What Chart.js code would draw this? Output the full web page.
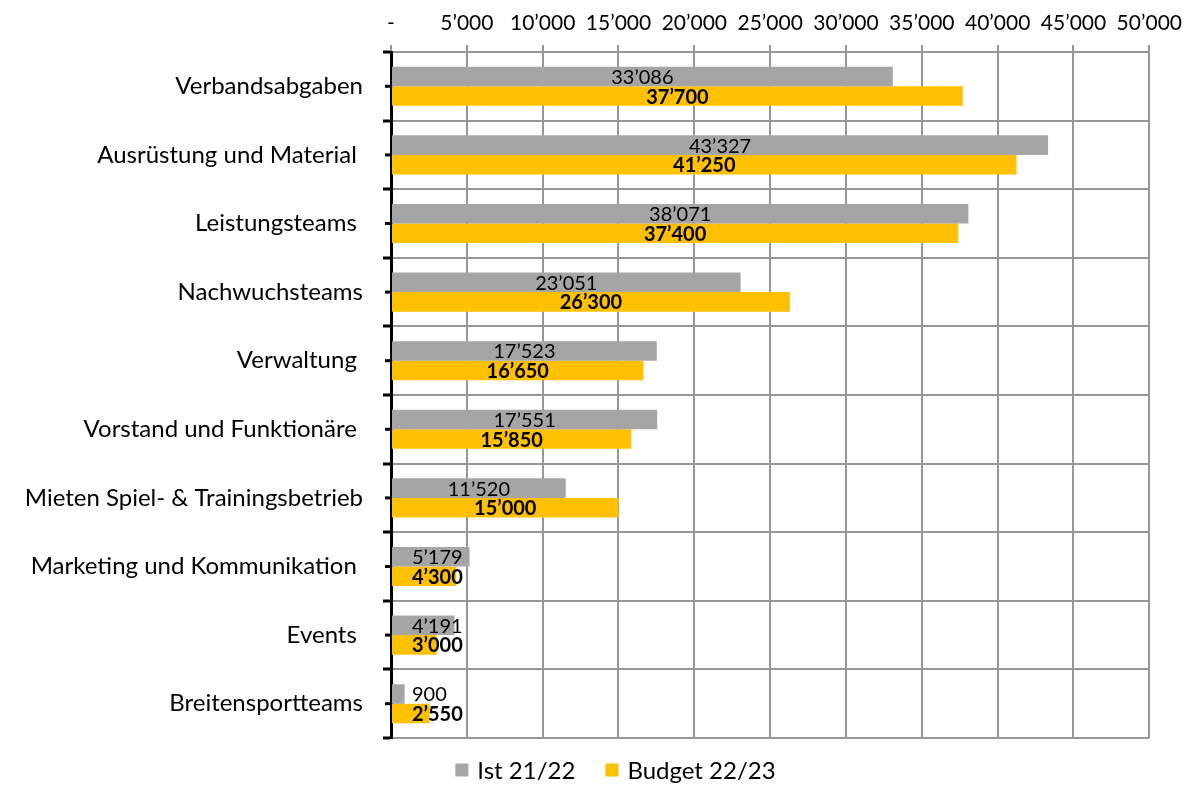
<!DOCTYPE html>
<html>
<head>
<meta charset="utf-8">
<script src="https://cdn.jsdelivr.net/npm/chart.js@4/dist/chart.umd.min.js"></script>
<style>
  html, body { margin: 0; padding: 0; background: #fff; }
  #wrap { width: 1191px; height: 787px; }
</style>
</head>
<body>
<div id="wrap"><canvas id="chart"></canvas></div>
<script>
"use strict";

// categories (trailing spaces are in the original labels)
const categories = [
  "Verbandsabgaben",
  "Ausrüstung und Material ",
  "Leistungsteams ",
  "Nachwuchsteams",
  "Verwaltung ",
  "Vorstand und Funktionäre ",
  "Mieten Spiel- & Trainingsbetrieb",
  "Marketing und Kommunikation ",
  "Events ",
  "Breitensportteams",
];
const istValues = [33086, 43327, 38071, 23051, 17523, 17551, 11520, 5179, 4191, 900];
const budgetValues = [37700, 41250, 37400, 26300, 16650, 15850, 15000, 4300, 3000, 2550];
const seriesNames = ["Ist 21/22", "Budget 22/23"];
const xMin = 0;
const xMax = 50000;
const xStep = 5000;

const FONT = "Lato";
const GRID = "#979797";

// 33086 -> 33’086, 0 -> "-"
const fmt = (v) =>
  v === 0 ? "-" : String(v).replace(/\B(?=(\d{3})+(?!\d))/g, "\u2019");

//? value labels in the bars, short ticks at category centers, legend
const extras = {
  id: "extras",
  afterDatasetsDraw(chart) {
    const ctx = chart.ctx;
    ctx.save();
    ctx.textBaseline = "middle";
    ctx.textAlign = "center";
    chart.data.datasets.forEach((ds, i) => {
      const meta = chart.getDatasetMeta(i);
      ctx.font = (i === 1 ? "bold " : "") + "20px " + FONT;
      ctx.fillStyle = "#000";
      meta.data.forEach((bar, j) => {
        const txt = fmt(ds.data[j]);
        const w = ctx.measureText(txt).width;
        let cx = (bar.base + bar.x) / 2;
        //! small bars: Excel pushes the label right
        cx = Math.max(cx, bar.base + 20 + w / 2);
        ctx.fillText(txt, cx, bar.y + 1);
      });
    });
    ctx.restore();
  },
  afterDraw(chart) {
    const ctx = chart.ctx;
    const y = chart.scales.y;
    ctx.save();
    ctx.strokeStyle = "#000";
    ctx.lineWidth = 3;
    categories.forEach((c, j) => {
      const py = y.getPixelForTick(j);
      ctx.beginPath();
      ctx.moveTo(y.right - 6, py);
      ctx.lineTo(y.right, py);
      ctx.stroke();
    });

    // legend
    ctx.font = "24px " + FONT;
    ctx.textBaseline = "middle";
    ctx.textAlign = "left";
    const box = 13;
    const gap = 9;
    const spacing = 30;
    const items = chart.data.datasets.map((ds) => ({
      text: ds.label,
      color: ds.backgroundColor,
      w: box + gap + ctx.measureText(ds.label).width,
    }));
    const total = items.reduce((a, b) => a + b.w, 0) + spacing * (items.length - 1);
    let lx = chart.width / 2 + 20 - total / 2;
    const ly = 770;
    items.forEach((it) => {
      ctx.fillStyle = it.color;
      ctx.fillRect(lx, ly - box / 2, box, box);
      ctx.fillStyle = "#000";
      ctx.fillText(it.text, lx + box + gap, ly + 1);
      lx += it.w + spacing;
    });
    ctx.restore();
  },
};

const data = {
  labels: categories,
  datasets: [
    {
      label: seriesNames[0],
      data: istValues,
      backgroundColor: "#a5a5a5",
      categoryPercentage: 0.57,
      barPercentage: 1,
    },
    {
      label: seriesNames[1],
      data: budgetValues,
      backgroundColor: "#ffc000",
      categoryPercentage: 0.57,
      barPercentage: 1,
    },
  ],
};

const config = {
  type: "bar",
  data,
  options: {
    indexAxis: "y",
    responsive: true,
    maintainAspectRatio: false,
    animation: false,
    layout: { padding: { left: 0, right: 35, top: 0, bottom: 49 } },
    plugins: {
      tooltip: { enabled: false },
      legend: { display: false },
    },
    scales: {
      x: {
        position: "top",
        min: xMin,
        max: xMax,
        ticks: {
          stepSize: xStep,
          font: { family: FONT, size: 21 },
          color: "#000",
          padding: 9,
          maxRotation: 0,
          callback: (v) => fmt(v),
        },
        grid: { color: GRID, lineWidth: 2, tickLength: 7 },
        border: { color: GRID, width: 2 },
        afterFit(scale) {
          scale.height = 52;
        },
      },
      y: {
        ticks: {
          font: { family: FONT, size: 24 },
          color: "#000",
          padding: 20,
        },
        grid: {
          color: GRID,
          lineWidth: 2,
          tickLength: 8,
          tickColor: "#000",
          tickWidth: 3,
        },
        border: { color: "#000", width: 3 },
        afterFit(scale) {
          scale.width = 391;
        },
      },
    },
  },
  plugins: [extras],
};

const myChart = new Chart(document.getElementById("chart"), config);
</script>
</body>
</html>
